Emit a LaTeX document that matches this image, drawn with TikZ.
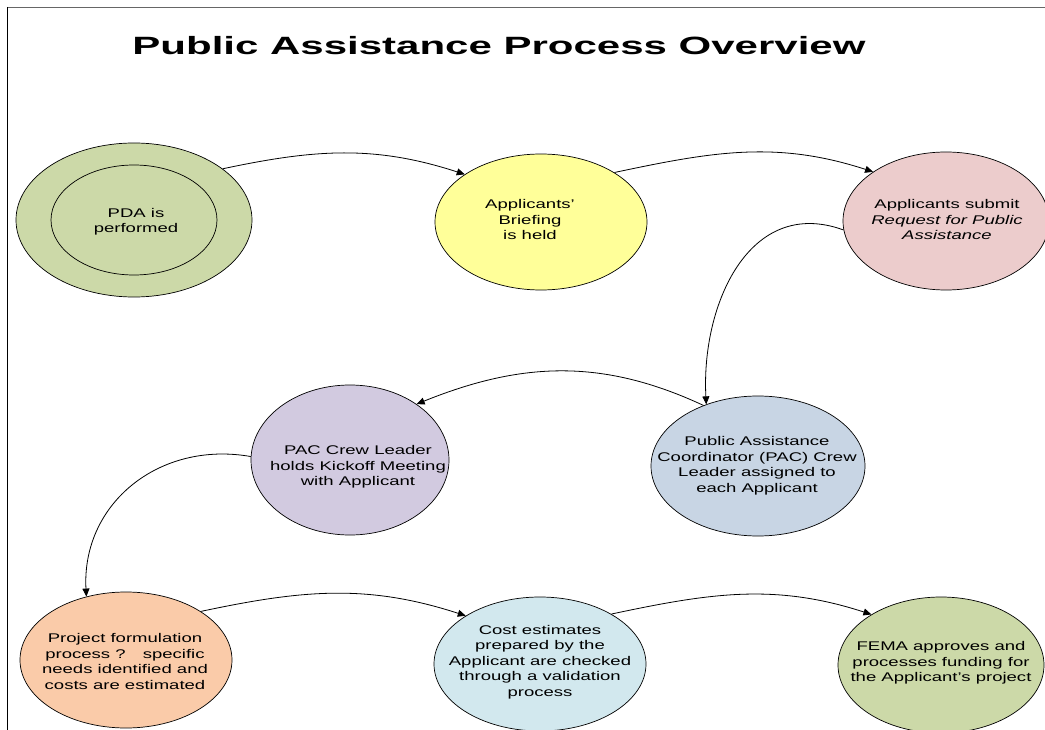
\documentclass[tikz,border=0pt]{standalone}
\usepackage{fontspec}
\setmainfont{Liberation Sans}
\usetikzlibrary{shapes.geometric,arrows.meta}
\definecolor{cgreen}{RGB}{204,217,168}
\definecolor{cyellow}{RGB}{255,255,153}
\definecolor{cpink}{RGB}{236,204,204}
\definecolor{cpurple}{RGB}{210,202,224}
\definecolor{cblue}{RGB}{200,213,228}
\definecolor{corange}{RGB}{250,203,169}
\definecolor{clblue}{RGB}{210,232,238}
\newcommand\bodytxt[1]{\scalebox{1.47}[1]{\fontsize{12.6}{15.5}\selectfont\begin{tabular}{@{}c@{}}#1\end{tabular}}}
\begin{document}
\begin{tikzpicture}[x=1pt,y=-1pt,
  bub/.style={ellipse,draw=black,line width=0.7pt,inner sep=0pt},
  lbl/.style={inner sep=0pt,align=center},
  conn/.style={line width=0.8pt,-{Triangle[length=8pt,width=7pt]}}]
\useasboundingbox (0,0) rectangle (1045,730);
\clip (0,0) rectangle (1045,730);
% frame
\draw[gray!80!black,line width=1.5pt] (7,7.5) -- (1045,7.5);
\draw[black,line width=0.8pt] (7.5,7) -- (7.5,730);
% title
\node[anchor=base,inner sep=0pt] (title) at (499,55) {\scalebox{1.68}[1]{\fontsize{25}{30}\selectfont\bfseries Public Assistance Process Overview}};
% ellipses
\node[bub,fill=cgreen,minimum width=236pt,minimum height=154pt] (pda) at (134,220) {};
\node[bub,fill=cgreen,minimum width=166pt,minimum height=110pt] (pdain) at (134,220) {};
\node[bub,fill=cyellow,minimum width=212pt,minimum height=136pt] (brief) at (541,222) {};
\node[bub,fill=cpink,minimum width=206pt,minimum height=138pt] (submit) at (946,221) {};
\node[bub,fill=cpurple,minimum width=198pt,minimum height=150pt] (kick) at (350,460) {};
\node[bub,fill=cblue,minimum width=214pt,minimum height=140pt] (pac) at (758,466) {};
\node[bub,fill=corange,minimum width=212pt,minimum height=136pt] (form) at (126,660) {};
\node[bub,fill=clblue,minimum width=212pt,minimum height=134pt] (cost) at (540,664) {};
\node[bub,fill=cgreen,minimum width=206pt,minimum height=136pt] (fema) at (941,665) {};
% texts
\node[lbl] (tpda) at (136,222) {\bodytxt{PDA is\\performed}};
\node[lbl] (tbrief) at (530,221) {\bodytxt{Applicants’\\Briefing\\is held}};
\node[lbl] (tsubmit) at (947,221) {\bodytxt{Applicants submit\\\itshape Request for Public\\\itshape Assistance}};
\node[lbl] (tkick) at (358,467) {\bodytxt{PAC Crew Leader\\holds Kickoff Meeting\\with Applicant}};
\node[lbl] (tpac) at (757,466) {\bodytxt{Public Assistance\\Coordinator (PAC) Crew\\Leader assigned to\\each Applicant}};
\node[lbl] (tform) at (125,663) {\bodytxt{Project formulation\\process ?~~ specific\\needs identified and\\costs are estimated}};
\node[lbl] (tcost) at (540,662) {\bodytxt{Cost estimates\\prepared by the\\Applicant are checked\\through a validation\\process}};
\node[lbl] (tfema) at (941,663) {\bodytxt{FEMA approves and\\processes funding for\\the Applicant’s project}};
% connectors
\draw[conn] (pda.30) to[out=12,in=162] (brief.148);
\draw[conn] (brief.34) to[out=12,in=162] (submit.146);
\draw[conn] (submit.185) to[out=160,in=93,looseness=1.15] (pac.130);
\draw[conn] (pac.132) to[out=155,in=22] (kick.40);
\draw[conn] (kick.178) to[out=170,in=93,looseness=1.1] (form.122);
\draw[conn] (form.33) to[out=12,in=162] (cost.147);
\draw[conn] (cost.35) to[out=12,in=162] (fema.144);
\end{tikzpicture}
\end{document}
